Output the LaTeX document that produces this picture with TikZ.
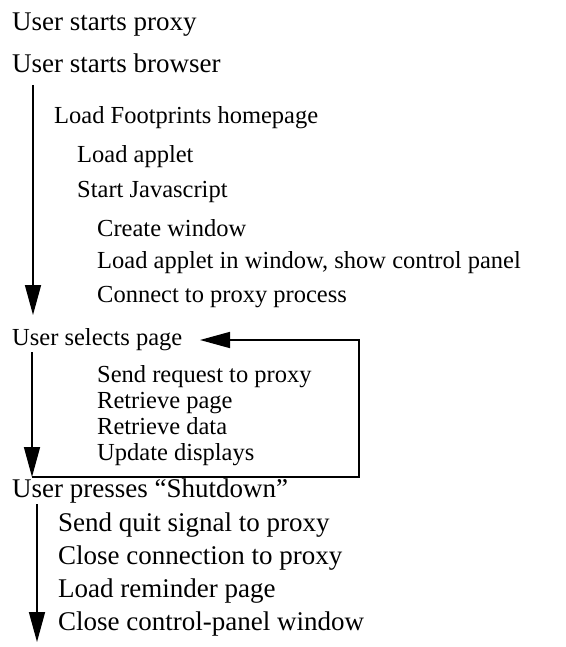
\documentclass[tikz,border=0pt]{standalone}
\usepackage{fontspec}
\setmainfont{Liberation Serif}
\usetikzlibrary{arrows.meta}
\begin{document}
\begin{tikzpicture}[x=1bp,y=-1bp,
  lbl/.style={anchor=base west,inner sep=0pt,font=\fontsize{24.5bp}{28bp}\selectfont},
  biglbl/.style={anchor=base west,inner sep=0pt,font=\fontsize{27bp}{30bp}\selectfont},
  flow/.style={line width=1.6bp,-{Triangle[length=30bp,width=16bp]}}]
\useasboundingbox (0,0) rectangle (566,647);
\node[biglbl] (p1) at (12,31) {User starts proxy};
\node[biglbl] (b1) at (12,73) {User starts browser};
\node[lbl] (h1) at (54,124) {Load Footprints homepage};
\node[lbl] (a1) at (77,163) {Load applet};
\node[lbl] (j1) at (77,197) {Start Javascript};
\node[lbl] (w1) at (97,236) {Create window};
\node[lbl] (w2) at (97,268) {Load applet in window, show control panel};
\node[lbl] (c1) at (97,302) {Connect to proxy process};
\node[lbl] (s0) at (12,345) {User selects page};
\node[lbl] (s1) at (97,382) {Send request to proxy};
\node[lbl] (s2) at (97,408) {Retrieve page};
\node[lbl] (s3) at (97,434) {Retrieve data};
\node[lbl] (s4) at (97,460) {Update displays};
\node[biglbl] (q0) at (12,497) {User presses ``Shutdown''};
\node[biglbl] (q1) at (58,531) {Send quit signal to proxy};
\node[biglbl] (q2) at (58,564) {Close connection to proxy};
\node[biglbl] (q3) at (58,597) {Load reminder page};
\node[biglbl] (q4) at (58,630) {Close control-panel window};
\coordinate (t1) at (33,85);
\coordinate (t2) at (33,315);
\coordinate (l1) at (32,352);
\coordinate (l2) at (32,477);
\coordinate (lr) at (359,340);
\coordinate (lt) at (200,340);
\coordinate (u1) at (37,504);
\coordinate (u2) at (37,642);
\draw[flow] (t1) -- (t2);
\draw[flow] (l1) -- (l2);
\draw[flow] (l2) -| (lr) -- (lt);
\draw[flow] (u1) -- (u2);
\end{tikzpicture}
\end{document}
